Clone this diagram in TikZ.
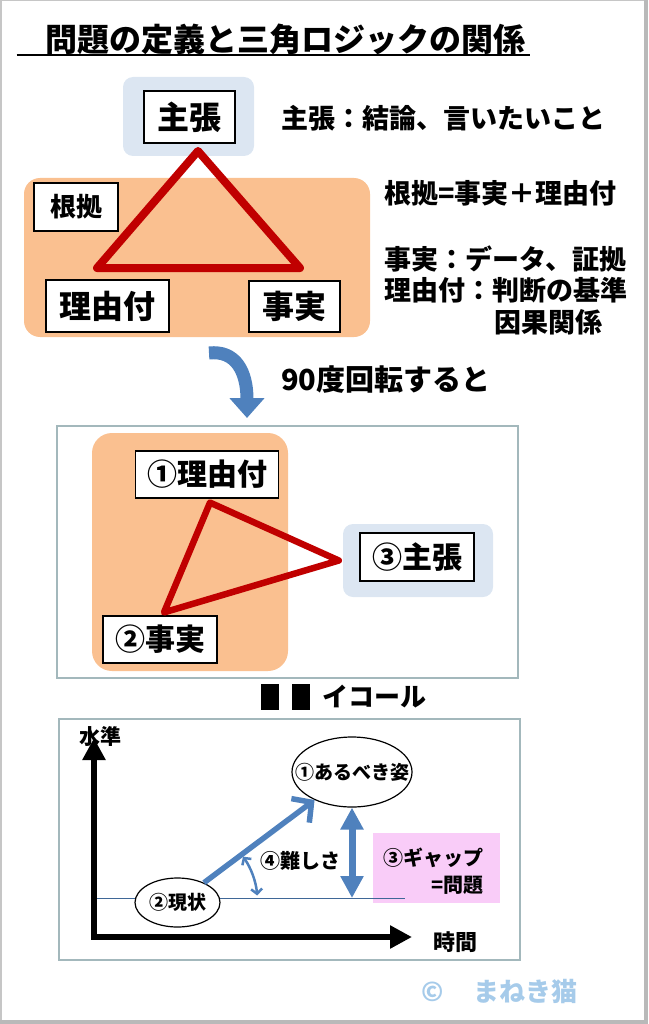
\documentclass[tikz,border=0pt]{standalone}
\usepackage{fontspec}
\setmainfont{Noto Sans CJK JP}
\usepackage{xcolor}
\definecolor{Peach}{HTML}{FAC090}
\definecolor{IceBlue}{HTML}{DCE6F2}
\definecolor{DeepRed}{HTML}{C00000}
\definecolor{Steel}{HTML}{4F81BD}
\definecolor{FrameGray}{HTML}{A3B8BC}
\definecolor{Pink}{HTML}{F9CCF8}
\definecolor{Sky}{HTML}{A6CBEA}
\usetikzlibrary{arrows.meta,shapes.geometric}
\newcommand\jp[1]{\fontsize{#1}{#1}\selectfont\bfseries}

\begin{document}
\begin{tikzpicture}[x=1pt,y=-1pt,
    >={Triangle[length=22pt,width=22pt]},
    wbox/.style={draw=black,line width=1.2pt,fill=white,inner sep=0pt},   % white label box
    peachbg/.style={fill=Peach,rounded corners=16pt,inner sep=0pt},       % grounds area
    icebg/.style={fill=IceBlue,rounded corners=10pt,inner sep=0pt},       % claim area
    tri/.style={draw=DeepRed,line width=8pt,line join=round},
    note/.style={anchor=west,inner sep=0pt,font=\jp{27}},
    frame/.style={draw=FrameGray,line width=1.3pt},
    oval/.style={ellipse,draw=black,line width=1.2pt,fill=white,inner sep=0pt},
    ctext/.style={inner sep=0pt,font=\jp{19}},
  ]
  \useasboundingbox (0,0) rectangle (648,1024);
  \draw[gray!45,line width=1.5pt] (0.75,0.75) rectangle (645,1021);
  \draw[gray!55,line width=4pt] (646,0) -- (646,1022) -- (0,1022);

  % ---------- title ----------
  \node[inner sep=0pt,font=\jp{32}] (title) at (285,39) {問題の定義と三角ロジックの関係};
  \draw[line width=1.6pt] (16.5,55) -- (530,55);

  % ---------- triangle logic ----------
  \node[icebg,minimum width=131pt,minimum height=79pt] (claimBg) at (188.5,116.5) {};
  \node[peachbg,minimum width=346pt,minimum height=159pt] (groundBg) at (197,257.5) {};
  \node[wbox,minimum width=91pt,minimum height=52pt,font=\jp{32}] (claim) at (189.5,117) {主張};
  \node[wbox,minimum width=84pt,minimum height=48pt,font=\jp{26}] (ground) at (76,207) {根拠};
  \node[wbox,minimum width=123pt,minimum height=52pt,font=\jp{32}] (reason) at (107.5,306) {理由付};
  \node[wbox,minimum width=91pt,minimum height=51pt,font=\jp{32}] (fact) at (294.5,306.5) {事実};

  \coordinate (apex) at (198,151);
  \coordinate (baseL) at (97,268);
  \coordinate (baseR) at (300,268);
  \draw[tri] (apex) -- (baseL) -- (baseR) -- cycle;

  \node[note] (n1) at (281,118) {主張：結論、言いたいこと};
  \node[note] (n2) at (384,193) {根拠=事実＋理由付};
  \node[note] (n3) at (384,259) {事実：データ、証拠};
  \node[note] (n4) at (384,290) {理由付：判断の基準};
  \node[note] (n5) at (494,322) {因果関係};

  % ---------- turn by 90 degrees ----------
  \draw[Steel,line width=13pt,-{Triangle[length=20pt,width=34pt]}]
       (209,353) .. controls (236,350) and (247,372) .. (247,418);
  \node[inner sep=0pt,font=\jp{29},anchor=west] (turn) at (281,380) {90度回転すると};

  % ---------- rotated triangle ----------
  \draw[frame] (57,426) rectangle (518,678);
  \node[peachbg,rounded corners=20pt,minimum width=196pt,minimum height=238pt] (groundBg2) at (190,552) {};
  \node[icebg,minimum width=150pt,minimum height=73pt] (claimBg2) at (418,560.5) {};
  \node[wbox,minimum width=143.5pt,minimum height=47pt,font=\jp{30}] (reason2) at (207,474.5) {①理由付};
  \node[wbox,minimum width=114pt,minimum height=48pt,font=\jp{30}] (claim2) at (417,557) {③主張};
  \node[wbox,minimum width=114pt,minimum height=47pt,font=\jp{30}] (fact2) at (160,639.5) {②事実};
  \draw[tri,line width=6.5pt] ([shift={(3,4)}]reason2.south) -- ([shift={(4,-3)}]fact2.north)
       -- ([xshift=-4pt]claimBg2.west) -- cycle;

  % ---------- equals ----------
  \foreach \bx in {261,292}
    \fill (\bx,684) rectangle +(18,26);
  \node[inner sep=0pt,font=\jp{26},anchor=west] (equal) at (322,697) {イコール};

  % ---------- gap chart ----------
  \draw[frame] (59,719) rectangle (520,960);
  \node[fill=Pink,minimum width=127pt,minimum height=70pt,inner sep=0pt] (gapBg) at (436.5,868) {};
  \coordinate (lvlL) at (95,898);
  \coordinate (lvlR) at (405,898);
  \draw[Steel!80!black,line width=1pt] (lvlL) -- (lvlR);

  \coordinate (ytop) at (94,738);
  \coordinate (origin) at (94,937);
  \coordinate (xend) at (412,937);
  \draw[line width=6pt,<->] (ytop) -- (origin) -- (xend);
  \node[inner sep=0pt,font=\jp{21}] (level) at (100,736) {水準};
  \node[inner sep=0pt,font=\jp{22}] (time) at (455.5,942) {時間};

  \node[oval,minimum width=120pt,minimum height=70pt] (ideal) at (352,772) {};
  \node[ctext] (idealText) at (ideal) {①あるべき姿};
  \node[oval,minimum width=85pt,minimum height=49pt] (now) at (177.5,902.5) {};
  \node[ctext] (nowText) at (now) {②現状};

  \draw[Steel,line width=5.5pt,-{Straight Barb[length=14pt,width=30pt]}] (now) -- (ideal);
  \draw[Steel,line width=7pt,<->] (ideal.south) -- (ideal.south |- lvlR);
  \draw[Steel,line width=2.5pt,{Straight Barb[length=5pt,width=11pt]}-{Straight Barb[length=5pt,width=11pt]}]
       ([shift={(-35:80)}]now.center) arc (-35:-5:80);

  \node[inner sep=0pt,font=\jp{20}] (hard) at (300,861) {④難しさ};
  \node[inner sep=0pt,font=\fontsize{20}{27}\selectfont\bfseries,align=right,anchor=east] (gap) at (484,871) {③ギャップ\\=問題};

  % ---------- credit ----------
  \node[inner sep=0pt,font=\jp{26},text=Sky,anchor=east] (credit) at (578,992) {©\hspace{30pt}まねき猫};
\end{tikzpicture}
\end{document}
